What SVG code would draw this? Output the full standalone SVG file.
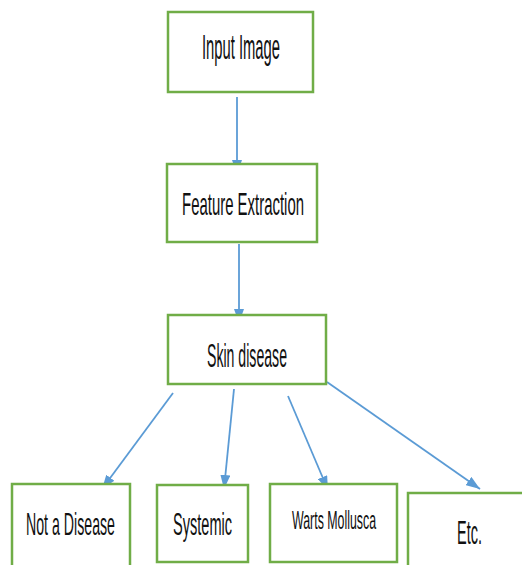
<svg xmlns="http://www.w3.org/2000/svg" width="522" height="565" viewBox="0 0 522 565">
<style>
.box{fill:#fff;stroke:#70AD47;stroke-width:2.5}
.lbl{font-family:"Liberation Sans","DejaVu Sans",sans-serif;fill:#111;text-anchor:middle}
.con{stroke:#5B9BD5;stroke-width:1.8;fill:none}
</style>
<defs>
<marker id="ah" viewBox="0 0 14 10" refX="14" refY="5" markerWidth="14" markerHeight="10" markerUnits="userSpaceOnUse" orient="auto">
<path d="M0,0 L14,5 L0,10 Z" fill="#5B9BD5"/>
</marker>
</defs>
<rect width="522" height="565" fill="#fff"/>
<g id="connectors">
<line class="con" x1="237" y1="97" x2="237" y2="174" marker-end="url(#ah)"/>
<line class="con" x1="239" y1="244" x2="239" y2="323" marker-end="url(#ah)"/>
<line class="con" x1="173" y1="393" x2="102" y2="489" marker-end="url(#ah)"/>
<line class="con" x1="234" y1="389" x2="224" y2="489" marker-end="url(#ah)"/>
<line class="con" x1="288" y1="396" x2="328" y2="490" marker-end="url(#ah)"/>
<line class="con" x1="327" y1="382" x2="480" y2="489" marker-end="url(#ah)" stroke-width="2.4"/>
</g>
<g id="input-image">
<rect class="box" x="168" y="12" width="145" height="80"/>
<text class="lbl" transform="translate(241,59) scale(1,2.18)" font-size="16" textLength="78" lengthAdjust="spacingAndGlyphs">Input Image</text>
</g>
<g id="feature-extraction">
<rect class="box" x="167" y="164" width="150" height="78"/>
<text class="lbl" transform="translate(243,215) scale(1,2.14)" font-size="15" textLength="122" lengthAdjust="spacingAndGlyphs">Feature Extraction</text>
</g>
<g id="skin-disease">
<rect class="box" x="168" y="315" width="158" height="69"/>
<text class="lbl" transform="translate(247,367) scale(1,2.35)" font-size="14" textLength="80" lengthAdjust="spacingAndGlyphs">Skin disease</text>
</g>
<g id="not-a-disease">
<rect class="box" x="12" y="484" width="118" height="90"/>
<text class="lbl" transform="translate(70.5,535) scale(1,2.2)" font-size="14" textLength="89" lengthAdjust="spacingAndGlyphs">Not a Disease</text>
</g>
<g id="systemic">
<rect class="box" x="157" y="485" width="91" height="77"/>
<text class="lbl" transform="translate(202.5,535) scale(1,2.1)" font-size="14.5" textLength="59" lengthAdjust="spacingAndGlyphs">Systemic</text>
</g>
<g id="warts-mollusca">
<rect class="box" x="270" y="484" width="127" height="78"/>
<text class="lbl" transform="translate(334,529) scale(1,2.04)" font-size="12.3" textLength="84" lengthAdjust="spacingAndGlyphs">Warts Mollusca</text>
</g>
<g id="etc">
<rect class="box" x="408" y="493" width="130" height="80"/>
<text class="lbl" transform="translate(469.5,544) scale(1,2.3)" font-size="14.5" textLength="25" lengthAdjust="spacingAndGlyphs">Etc.</text>
</g>
</svg>
